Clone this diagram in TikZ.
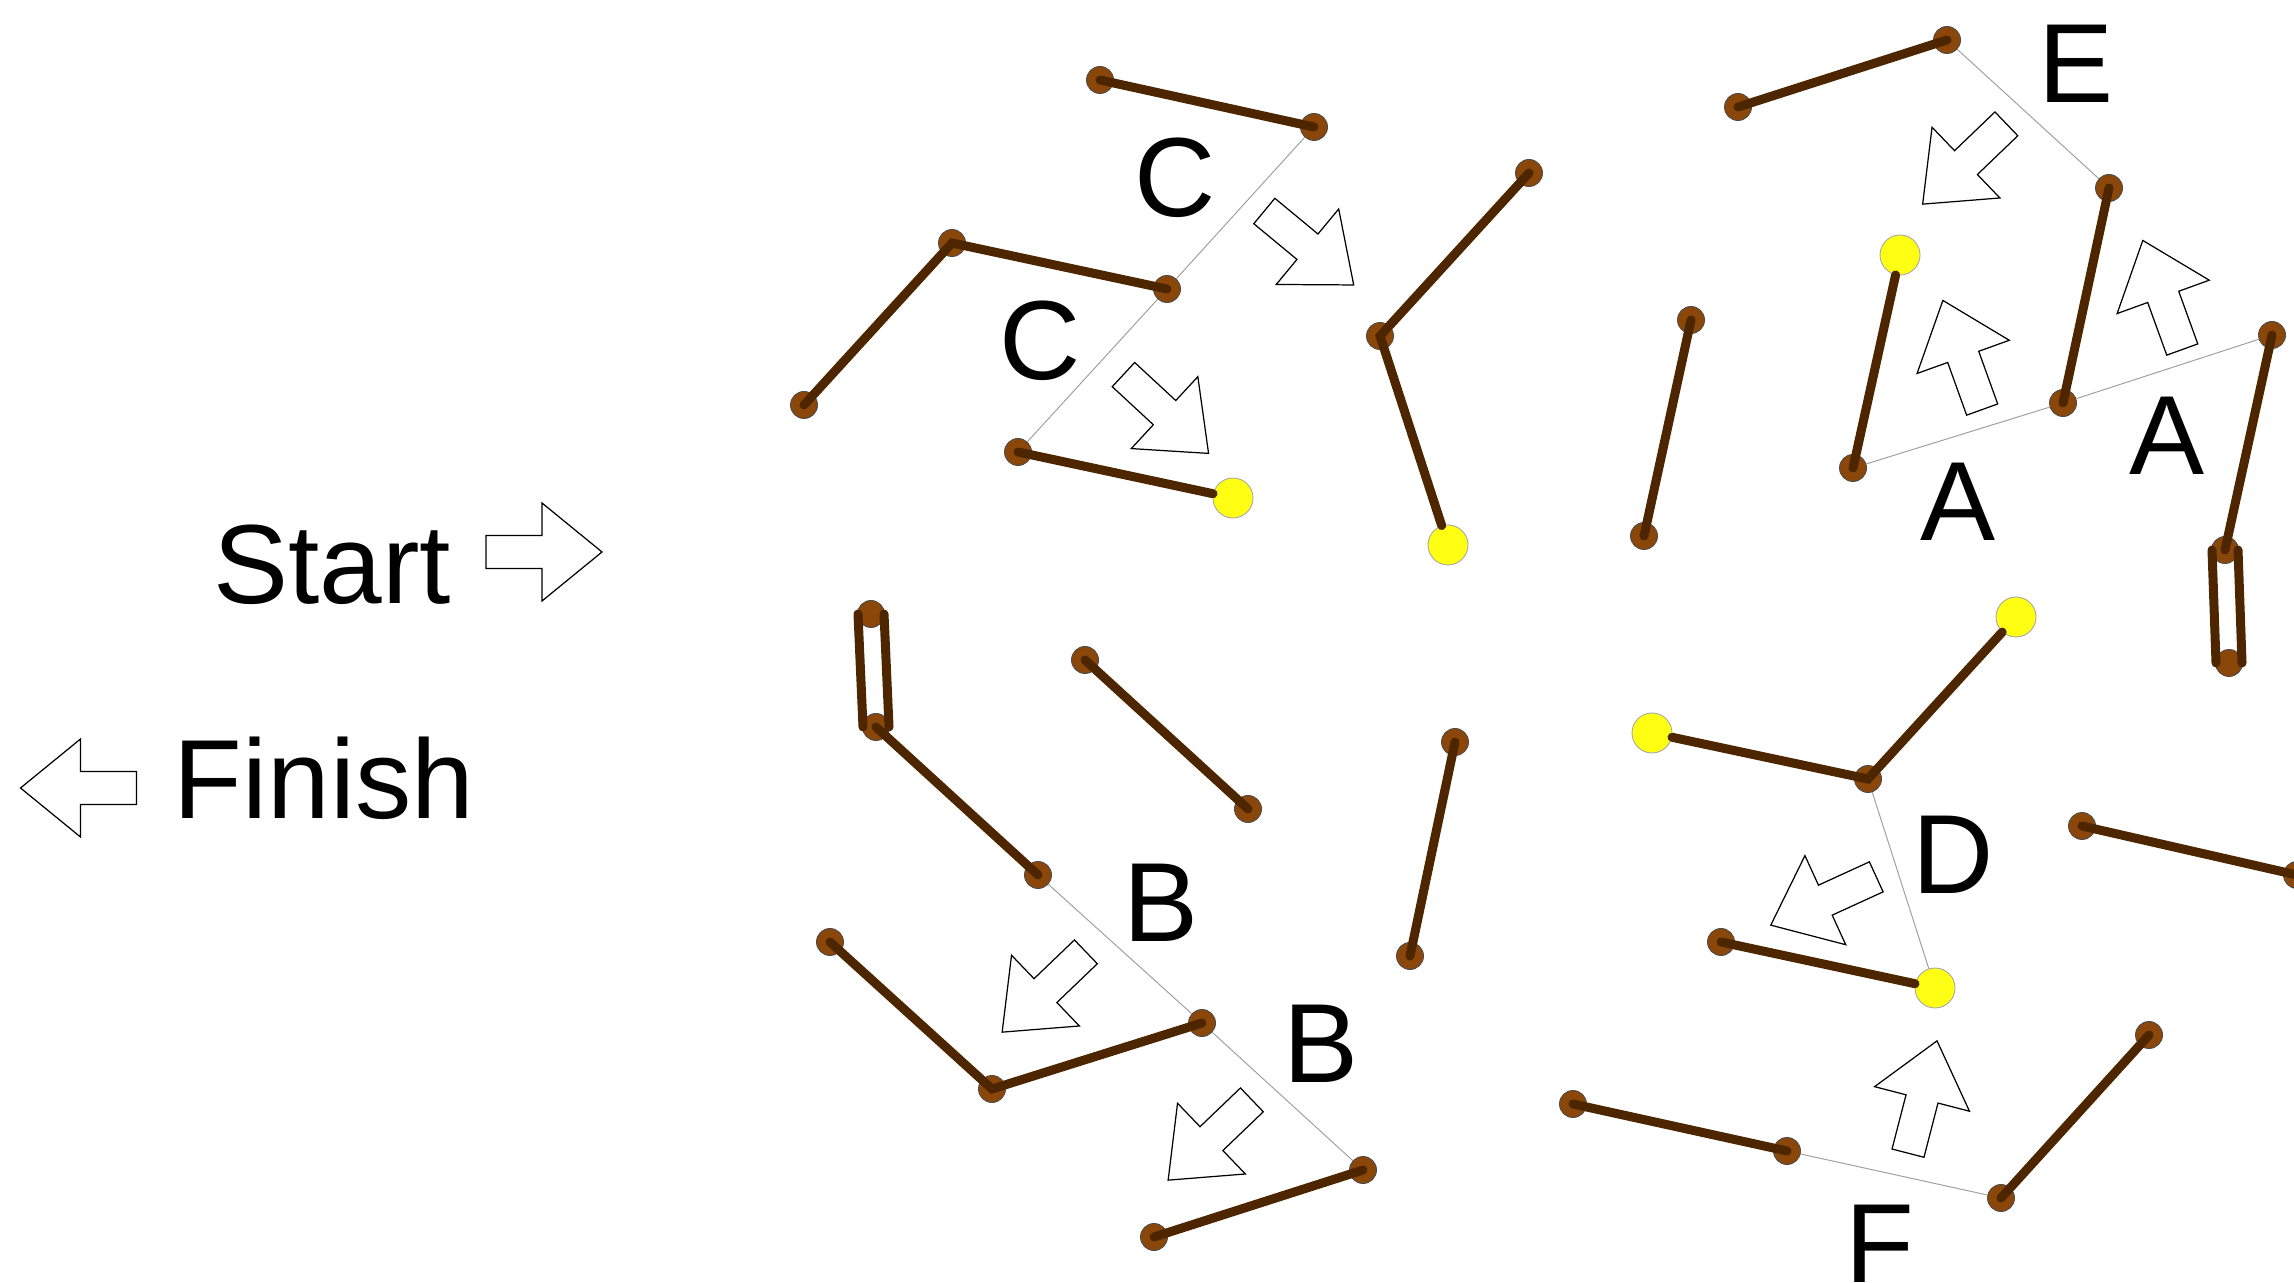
\documentclass[tikz,border=0pt]{standalone}
\usepackage{fontspec}
\setmainfont{Liberation Sans}
\definecolor{rodbrown}{RGB}{77,38,0}
\definecolor{jointbrown}{RGB}{139,71,10}
\definecolor{ballyellow}{RGB}{255,255,20}
\definecolor{guidegray}{RGB}{160,160,160}
\tikzset{
  joint/.style = {circle, fill=jointbrown, draw=black!70, line width=0.25pt, minimum size=0.27cm, inner sep=0pt},
  ball/.style = {circle, fill=ballyellow, draw=black!35, line width=0.25pt, minimum size=0.40cm, inner sep=0pt},
  rod/.style = {draw=rodbrown, line width=0.09cm, line cap=round},
  guide/.style = {draw=guidegray, line width=0.28pt},
  lbl/.style = {font=\fontsize{32}{38}\selectfont, inner sep=0pt, anchor=base},
  flow/.pic = {\draw[fill=white, line width=0.35pt]
    (-58,-16.5) -- (-2,-16.5) -- (-2,-49) -- (58,0) -- (-2,49) -- (-2,16.5) -- (-58,16.5) -- cycle;}
}
\begin{document}
\begin{tikzpicture}[x=0.01cm, y=-0.01cm]
\useasboundingbox (0,0) rectangle (2294,1283);

% joints and balls
\node[joint] (n1)  at (1100,80)  {};
\node[joint] (n2)  at (1314,127) {};
\node[joint] (n3)  at (952,243)  {};
\node[joint] (n4)  at (1167,289) {};
\node[joint] (n5)  at (804,405)  {};
\node[joint] (n6)  at (1018,452) {};
\node[ball]  (y1)  at (1233,498) {};
\node[joint] (n7)  at (1529,173) {};
\node[joint] (n8)  at (1380,336) {};
\node[ball]  (y2)  at (1448,545) {};
\node[joint] (n9)  at (1691,320) {};
\node[joint] (n10) at (1644,536) {};
\node[joint] (n11) at (1738,107) {};
\node[joint] (n12) at (1947,40)  {};
\node[joint] (n13) at (2109,188) {};
\node[joint] (n14) at (2063,403) {};
\node[ball]  (y3)  at (1900,255) {};
\node[joint] (n15) at (1853,468) {};
\node[joint] (n16) at (2272,335) {};
\node[joint] (n17) at (2225,550) {};
\node[joint] (n18) at (2229,663) {};
\node[joint] (h1)  at (871,614)  {};
\node[joint] (h2)  at (876,727)  {};
\node[joint] (n19) at (1038,875) {};
\node[joint] (n20) at (830,942)  {};
\node[joint] (n21) at (992,1089) {};
\node[joint] (n22) at (1202,1023) {};
\node[joint] (n23) at (1363,1170) {};
\node[joint] (n24) at (1154,1237) {};
\node[joint] (n25) at (1085,660) {};
\node[joint] (n26) at (1248,809) {};
\node[joint] (n27) at (1455,742) {};
\node[joint] (n28) at (1410,956) {};
\node[ball]  (y4)  at (1652,733) {};
\node[joint] (n29) at (1868,779) {};
\node[ball]  (y5)  at (2016,617) {};
\node[ball]  (y6)  at (1935,988) {};
\node[joint] (n30) at (1721,942) {};
\node[joint] (n31) at (2082,826) {};
\node[joint] (n32) at (2297,875) {};
\node[joint] (n33) at (1573,1104) {};
\node[joint] (n34) at (1787,1151) {};
\node[joint] (n35) at (2001,1198) {};
\node[joint] (n36) at (2149,1035) {};

% thin guides
\draw[guide] (n2) -- (n4) -- (n6);
\draw[guide] (n12) -- (n13);
\draw[guide] (n15) -- (n14) -- (n16);
\draw[guide] (n19) -- (n22) -- (n23);
\draw[guide] (n29) -- (y6);
\draw[guide] (n34) -- (n35);

% rods
\draw[rod] (n1.center) -- (n2.center);
\draw[rod] (n5.center) -- (n3.center) -- (n4.center);
\draw[rod] (n6.center) -- (y1);
\draw[rod] (n7.center) -- (n8.center) -- (y2);
\draw[rod] (n9.center) -- (n10.center);
\draw[rod] (n11.center) -- (n12.center);
\draw[rod] (n13.center) -- (n14.center);
\draw[rod] (y3) -- (n15.center);
\draw[rod] (n16.center) -- (n17.center);
\draw[rod] ([xshift=-0.13cm]n17.center) -- ([xshift=-0.13cm]n18.center);
\draw[rod] ([xshift=0.13cm]n17.center) -- ([xshift=0.13cm]n18.center);
\draw[rod] ([xshift=-0.13cm]h1.center) -- ([xshift=-0.13cm]h2.center);
\draw[rod] ([xshift=0.13cm]h1.center) -- ([xshift=0.13cm]h2.center);
\draw[rod] (h2.center) -- (n19.center);
\draw[rod] (n20.center) -- (n21.center) -- (n22.center);
\draw[rod] (n24.center) -- (n23.center);
\draw[rod] (n25.center) -- (n26.center);
\draw[rod] (n27.center) -- (n28.center);
\draw[rod] (y4) -- (n29.center) -- (y5);
\draw[rod] (n30.center) -- (y6);
\draw[rod] (n31.center) -- (n32.center);
\draw[rod] (n33.center) -- (n34.center);
\draw[rod] (n35.center) -- (n36.center);

% block arrows
\pic[rotate=0]     at (544,552)    {flow};
\pic[rotate=180]   at (78.5,788)   {flow};
\pic[rotate=-39.6] at (1309,248)   {flow};
\pic[rotate=-42.8] at (1166,414)   {flow};
\pic[rotate=223.8] at (1964.5,164) {flow};
\pic[rotate=109.8] at (1962.5,355) {flow};
\pic[rotate=109.9] at (2162.5,295) {flow};
\pic[rotate=223.8] at (1044,992)   {flow};
\pic[rotate=223.8] at (1210,1140)  {flow};
\pic[rotate=204.6] at (1823.5,901) {flow};
\pic[rotate=75.5]  at (1922.5,1097) {flow};

% labels
\node[lbl] (start)  at (332,604)   {Start};
\node[lbl] (finish) at (324,819)   {Finish};
\node[lbl] (c1)     at (1175,217)  {C};
\node[lbl] (c2)     at (1040,380)  {C};
\node[lbl] (e)      at (2076,103)  {E};
\node[lbl] (a1)     at (1958,541)  {A};
\node[lbl] (a2)     at (2167,475)  {A};
\node[lbl] (b1)     at (1161,942)  {B};
\node[lbl] (b2)     at (1321,1082) {B};
\node[lbl] (d)      at (1953,894)  {D};
\node[lbl] (f)      at (1880,1282) {F};
\end{tikzpicture}
\end{document}
